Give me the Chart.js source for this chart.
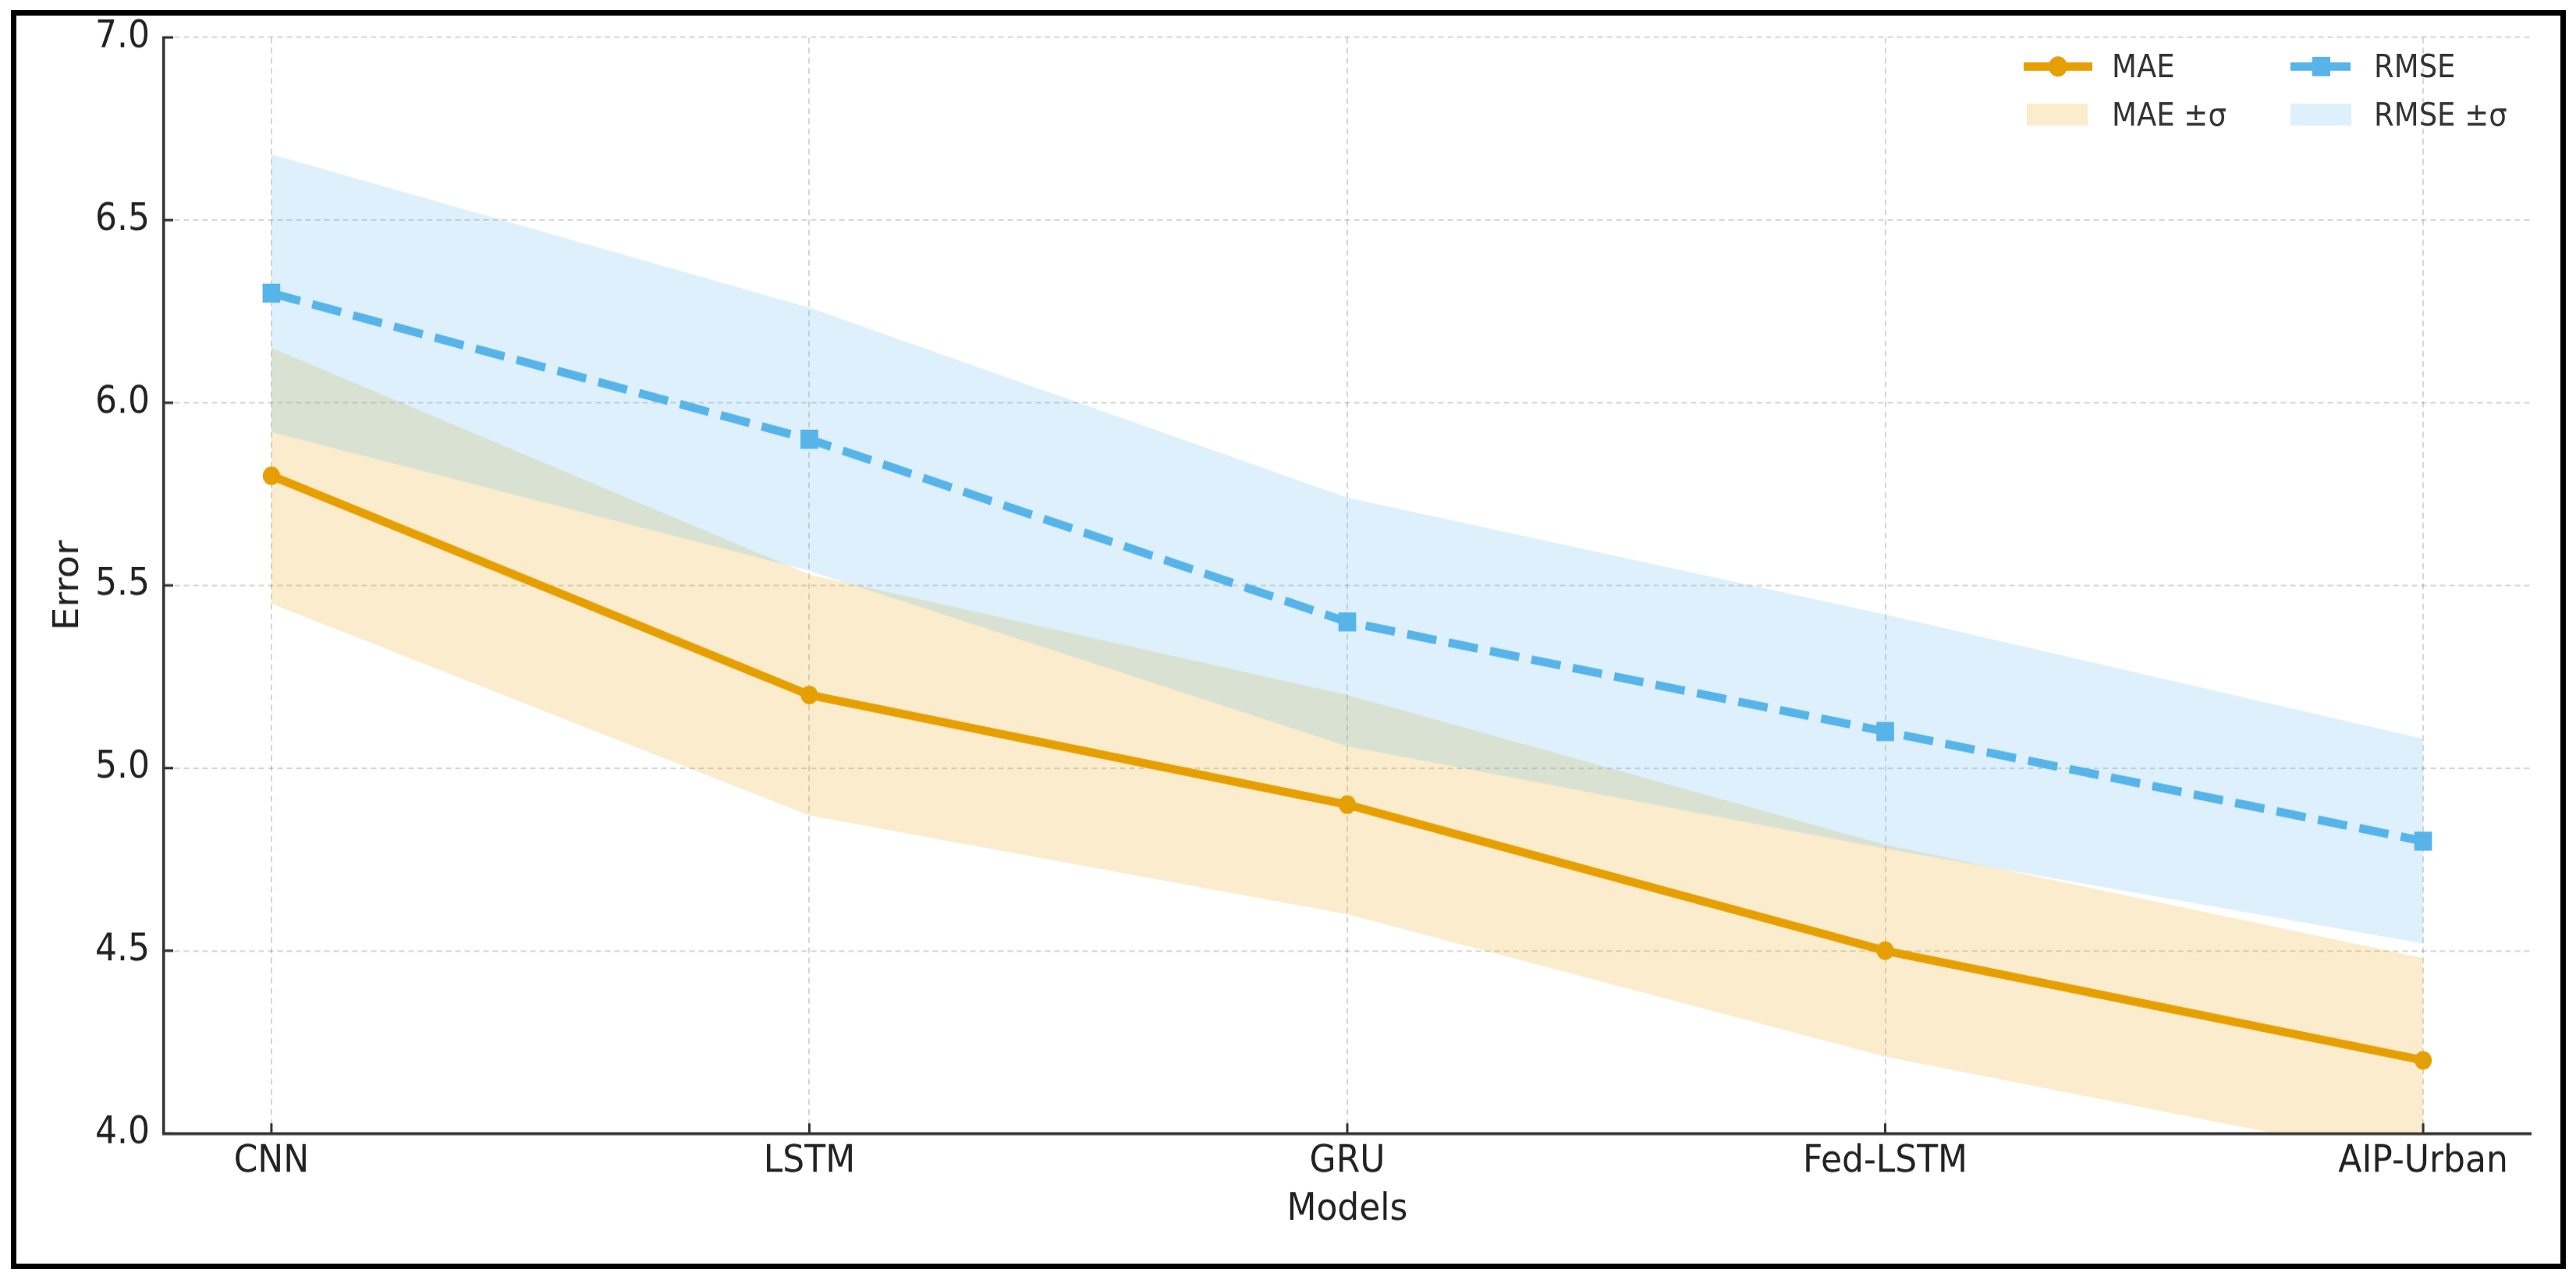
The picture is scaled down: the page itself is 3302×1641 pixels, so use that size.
<!DOCTYPE html>
<html>
<head>
<meta charset="utf-8">
<script src="https://cdn.jsdelivr.net/npm/chart.js@4.4.1/dist/chart.umd.min.js"></script>
<style>
  html, body { margin: 0; padding: 0; background: #fff; overflow: hidden; }
  body { width: 3302px; height: 1641px; position: relative; }
  #stage { position: absolute; left: 0; top: 0; width: 3302px; height: 1520px;
           transform: scaleY(1.08); transform-origin: 0 0; }
  #chart { position: absolute; left: 0; top: 0; }
  #frame { position: absolute; left: 14px; top: 13px; width: 3275px; height: 1614px;
           border: 7px solid #000; box-sizing: border-box; pointer-events: none; }
  .lg { position: absolute; font-family: 'DejaVu Sans', sans-serif; font-size: 37px;
        color: #333; line-height: 37px; white-space: nowrap; }
  .lgsw { position: absolute; }
</style>
</head>
<body>
<div id="stage">
  <canvas id="chart" width="3302" height="1520"></canvas>
  <div id="legend"></div>
</div>
<div id="frame"></div>
<script>
// ---- data ----
const categories = ['CNN', 'LSTM', 'GRU', 'Fed-LSTM', 'AIP-Urban'];
const maeValues  = [5.8, 5.2, 4.9, 4.5, 4.2];
const rmseValues = [6.3, 5.9, 5.4, 5.1, 4.8];
const maeStd     = [0.35, 0.33, 0.30, 0.29, 0.28];
const rmseStd    = [0.38, 0.36, 0.34, 0.32, 0.28];
const yTicks     = [4.0, 4.5, 5.0, 5.5, 6.0, 6.5, 7.0];
const seriesLabels = ['MAE', 'RMSE', 'MAE ±σ', 'RMSE ±σ'];

// ---- styles ----
const maeColor = '#E69F00';
const rmseColor = '#56B4E9';
const maeFill = 'rgba(230,159,0,0.2)';
const rmseFill = 'rgba(86,180,233,0.2)';
const FONT = "'DejaVu Sans', sans-serif";
Chart.defaults.font.family = FONT;

const pts = (vals) => vals.map((v, i) => ({ x: i, y: v }));
const band = (vals, sd, sign) => vals.map((v, i) => ({ x: i, y: v + sign * sd[i] }));

const innerTicks = {
  id: 'innerTicks',
  afterDraw(chart) {
    const { ctx, chartArea, scales } = chart;
    ctx.save();
    ctx.strokeStyle = '#333';
    ctx.lineWidth = 3;
    scales.y.ticks.forEach(t => {
      const y = scales.y.getPixelForValue(t.value);
      ctx.beginPath(); ctx.moveTo(chartArea.left, y); ctx.lineTo(chartArea.left + 12, y); ctx.stroke();
    });
    scales.x.ticks.forEach(t => {
      const x = scales.x.getPixelForValue(t.value);
      ctx.beginPath(); ctx.moveTo(x, chartArea.bottom); ctx.lineTo(x, chartArea.bottom - 12); ctx.stroke();
    });
    ctx.restore();
  }
};

new Chart(document.getElementById('chart'), {
  type: 'line',
  data: {
    datasets: [
      { label: seriesLabels[0], data: pts(maeValues), borderColor: maeColor, backgroundColor: maeColor,
        borderWidth: 10, pointStyle: 'circle', pointRadius: 11, pointBorderWidth: 0,
        pointBackgroundColor: maeColor, tension: 0, fill: false, order: 0 },
      { label: seriesLabels[1], data: pts(rmseValues), borderColor: rmseColor, backgroundColor: rmseColor,
        borderWidth: 10, borderDash: [38, 16], borderCapStyle: 'butt', pointStyle: 'rect', pointRadius: 16,
        pointBorderWidth: 0, pointBackgroundColor: rmseColor, tension: 0, fill: false, order: 1 },
      { label: seriesLabels[3], data: band(rmseValues, rmseStd, 1), borderWidth: 0, pointRadius: 0,
        backgroundColor: rmseFill, fill: '+1', order: 2 },
      { label: 'rmse-low', data: band(rmseValues, rmseStd, -1), borderWidth: 0, pointRadius: 0,
        fill: false, order: 2 },
      { label: seriesLabels[2], data: band(maeValues, maeStd, 1), borderWidth: 0, pointRadius: 0,
        backgroundColor: maeFill, fill: '+1', order: 3 },
      { label: 'mae-low', data: band(maeValues, maeStd, -1), borderWidth: 0, pointRadius: 0,
        fill: false, order: 3 }
    ]
  },
  options: {
    responsive: false,
    devicePixelRatio: 1,
    animation: false,
    events: [],
    layout: { padding: { left: 0, top: 31, right: 58, bottom: 0 } },
    plugins: { legend: { display: false }, tooltip: { enabled: false }, title: { display: false } },
    scales: {
      x: {
        type: 'linear', min: -0.2, max: 4.2,
        afterFit: (s) => { s.height = 174.6; },
        afterBuildTicks: (s) => { s.ticks = categories.map((c, i) => ({ value: i })); },
        ticks: { callback: (v) => categories[v], font: { size: 44 }, color: '#222', padding: 8,
                 maxRotation: 0, autoSkip: false },
        grid: { color: 'rgba(0,0,0,0.16)', lineWidth: 2, drawTicks: false },
        border: { display: true, color: '#333', width: 3.5, dash: [7, 5] },
        title: { display: true, text: 'Models', font: { size: 44 }, color: '#222',
                 padding: { top: 0, bottom: 57 } }
      },
      y: {
        type: 'linear', min: 4, max: 7,
        afterFit: (s) => { s.width = 210; },
        afterBuildTicks: (s) => { s.ticks = yTicks.map(v => ({ value: v })); },
        ticks: { callback: (v) => Number(v).toFixed(1), font: { size: 44 }, color: '#222', padding: 18 },
        grid: { color: 'rgba(0,0,0,0.16)', lineWidth: 2, drawTicks: false },
        border: { display: true, color: '#333', width: 3.5, dash: [7, 5] },
        title: { display: true, text: 'Error', font: { size: 44 }, color: '#222',
                 padding: { top: 62, bottom: 0 } }
      }
    }
  },
  plugins: [innerTicks]
});

// ---- legend (HTML, real text) ----
const legend = document.getElementById('legend');
const legendItems = [
  { text: seriesLabels[0], kind: 'line', color: maeColor, x: 2594, tx: 2707, y: 79 },
  { text: seriesLabels[1], kind: 'dash', color: rmseColor, x: 2936, tx: 3043, y: 79 },
  { text: seriesLabels[2], kind: 'patch', color: maeFill, x: 2598, tx: 2707, y: 136 },
  { text: seriesLabels[3], kind: 'patch', color: rmseFill, x: 2936, tx: 3043, y: 136 }
];
legendItems.forEach(it => {
  const sw = document.createElementNS('http://www.w3.org/2000/svg', 'svg');
  sw.setAttribute('class', 'lgsw');
  sw.setAttribute('width', '90'); sw.setAttribute('height', '40');
  sw.style.left = it.x + 'px'; sw.style.top = (it.y - 20) + 'px';
  let inner = '';
  if (it.kind === 'line') {
    inner = `<line x1="0" y1="20" x2="88" y2="20" stroke="${it.color}" stroke-width="10"/>` +
            `<circle cx="44" cy="20" r="12" fill="${it.color}"/>`;
  } else if (it.kind === 'dash') {
    inner = `<line x1="0" y1="20" x2="28" y2="20" stroke="${it.color}" stroke-width="10"/>` +
            `<line x1="51" y1="20" x2="77" y2="20" stroke="${it.color}" stroke-width="10"/>` +
            `<rect x="28" y="8.5" width="23" height="23" fill="${it.color}"/>`;
  } else {
    inner = `<rect x="0" y="7" width="78" height="26" fill="${it.color}"/>`;
  }
  sw.innerHTML = inner;
  legend.appendChild(sw);
  const t = document.createElement('div');
  t.className = 'lg';
  t.textContent = it.text;
  t.style.left = it.tx + 'px';
  t.style.top = (it.y - 18) + 'px';
  legend.appendChild(t);
});
</script>
</body>
</html>
